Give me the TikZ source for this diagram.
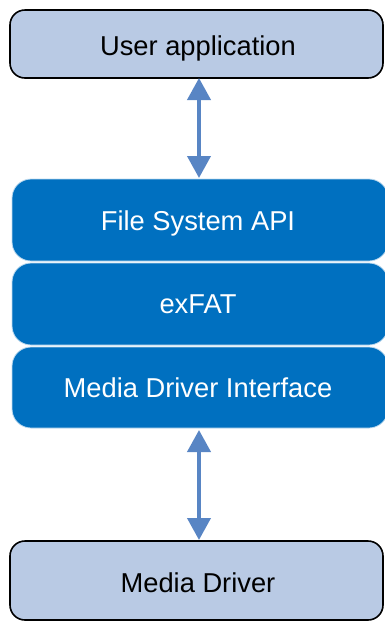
\documentclass[tikz,border=0pt]{standalone}
\usepackage{fontspec}
\setmainfont{Liberation Sans}
\usetikzlibrary{arrows.meta}
\definecolor{lightbox}{HTML}{B9CAE4}
\definecolor{darkbox}{HTML}{0070C0}
\definecolor{arrowblue}{HTML}{5885C4}
\begin{document}
\begin{tikzpicture}[x=1pt,y=-1pt,
  lightlayer/.style={draw=black, line width=1.6pt, fill=lightbox, rounded corners=15pt},
  darklayer/.style={draw=white!75!darkbox, line width=0.8pt, fill=darkbox, rounded corners=19pt},
  lbl/.style={font=\fontsize{27.3}{30}\selectfont, text=black, anchor=base, inner sep=0pt},
  wlbl/.style={font=\fontsize{27.3}{30}\selectfont, text=white, anchor=base, inner sep=0pt},
  biarrow/.style={draw=arrowblue, line width=4pt, {Triangle[width=23pt,length=22pt]}-{Triangle[width=23pt,length=22pt]}, shorten <=0pt, shorten >=0pt}]
\useasboundingbox (0,0) rectangle (384,622);
\draw[lightlayer] (10,10) rectangle (383,78);
\node[lbl] (ua) at (198,55) {User application};
\draw[darklayer] (12,179) rectangle (388,261);
\node[wlbl] (fs) at (198,230) {File System API};
\draw[darklayer] (12,263) rectangle (388,345);
\node[wlbl] (ex) at (198,313) {exFAT};
\draw[darklayer] (12,347) rectangle (388,428);
\node[wlbl] (md) at (198,397) {Media Driver Interface};
\draw[lightlayer] (10,541) rectangle (383,620);
\node[lbl] (drv) at (198,592) {Media Driver};
\coordinate (a1t) at (199,78);
\coordinate (a1b) at (199,178);
\coordinate (a2t) at (199,430);
\coordinate (a2b) at (199,540);
\draw[biarrow] (a1t) -- (a1b);
\draw[biarrow] (a2t) -- (a2b);
\end{tikzpicture}
\end{document}
